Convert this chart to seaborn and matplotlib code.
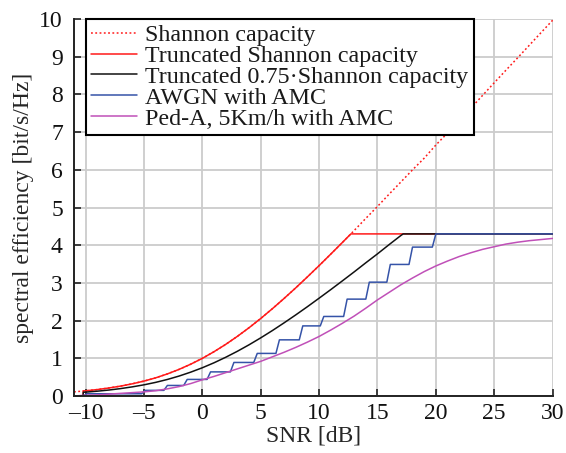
import matplotlib
matplotlib.use("Agg")
import matplotlib.pyplot as plt
import seaborn as sns
import numpy as np

# ---- data ----
snr_full = [-11, -10, -9, -8, -7, -6, -5, -4, -3, -2, -1, 0, 1, 2, 3, 4, 5, 6, 7, 8, 9,
            10, 11, 12, 13, 14, 15, 16, 17, 18, 19, 20, 21, 22, 23, 24, 25, 26, 27, 28, 29, 30]
shannon = [0.110, 0.138, 0.171, 0.213, 0.263, 0.324, 0.396, 0.482, 0.586, 0.706, 0.844, 1.000,
           1.176, 1.370, 1.583, 1.812, 2.057, 2.317, 2.588, 2.870, 3.161, 3.459, 3.765, 4.075,
           4.389, 4.712, 5.028, 5.356, 5.676, 5.999, 6.308, 6.658, 6.977, 7.308, 7.637, 7.973,
           8.309, 8.641, 8.969, 9.302, 9.636, 9.967]

trunc_snr = [-10.22, -10.2, -10, -9, -8, -7, -6, -5, -4, -3, -2, -1, 0, 1, 2, 3, 4, 5, 6, 7, 8,
             9, 10, 11, 12, 12.72, 30]
trunc_shannon = [0.0, 0.134, 0.138, 0.171, 0.213, 0.263, 0.324, 0.396, 0.482, 0.586, 0.706,
                 0.844, 1.000, 1.176, 1.370, 1.583, 1.812, 2.057, 2.317, 2.588, 2.870, 3.161,
                 3.459, 3.765, 4.075, 4.300, 4.300]

trunc075_snr = [-10.22, -10.2, -10, -9, -8, -7, -6, -5, -4, -3, -2, -1, 0, 1, 2, 3, 4, 5, 6, 7,
                8, 9, 10, 11, 12, 13, 14, 15, 16, 17, 17.2, 30]
trunc075 = [0.0, 0.100, 0.103, 0.128, 0.159, 0.197, 0.243, 0.297, 0.362, 0.439, 0.529, 0.633,
            0.750, 0.882, 1.028, 1.187, 1.359, 1.543, 1.737, 1.941, 2.152, 2.370, 2.595, 2.823,
            3.056, 3.292, 3.534, 3.771, 4.017, 4.257, 4.300, 4.300]

awgn_snr = [-11, -10.2, -9.9, -5.2, -4.9, -3.3, -3.0, -1.6, -1.3, 0.4, 0.7, 2.4, 2.7, 4.4, 4.7,
            6.3, 6.6, 8.3, 8.6, 10.1, 10.4, 12.1, 12.4, 14.0, 14.3, 15.8, 16.1, 17.7, 18.0,
            19.7, 20.0, 30]
awgn_amc = [0.0, 0.0, 0.06, 0.06, 0.15, 0.15, 0.28, 0.28, 0.44, 0.44, 0.64, 0.64, 0.89, 0.89,
            1.13, 1.13, 1.49, 1.49, 1.86, 1.86, 2.11, 2.11, 2.57, 2.57, 3.02, 3.02, 3.49, 3.49,
            3.95, 3.95, 4.30, 4.30]

peda_snr = snr_full
peda_amc = [0.00, 0.02, 0.03, 0.05, 0.07, 0.09, 0.11, 0.14, 0.19, 0.25, 0.33, 0.43, 0.52, 0.62,
            0.72, 0.82, 0.92, 1.04, 1.16, 1.29, 1.43, 1.58, 1.75, 1.93, 2.12, 2.33, 2.55, 2.75,
            2.95, 3.13, 3.30, 3.45, 3.58, 3.70, 3.80, 3.89, 3.96, 4.03, 4.08, 4.12, 4.15, 4.18]

labels = ["Shannon capacity", "Truncated Shannon capacity",
          "Truncated 0.75\u00b7Shannon capacity", "AWGN with AMC",
          "Ped-A, 5Km/h with AMC"]
x_ticks = [-10, -5, 0, 5, 10, 15, 20, 25, 30]
y_ticks = [0, 1, 2, 3, 4, 5, 6, 7, 8, 9, 10]

# ---- style ----
sns.set_theme(style="whitegrid")
plt.rcParams["font.family"] = ["Liberation Serif", "DejaVu Serif"]

fig = plt.figure(figsize=(5.66, 4.53), dpi=100)
ax = fig.add_axes([0.1307, 0.1258, 0.8456, 0.8322])

red = "#ff1a1a"
black = "#111111"
blue = "#3553a8"
magenta = "#c050b8"
lw = 1.1

sns.lineplot(x=snr_full, y=shannon, ax=ax, color=red, lw=lw, linestyle=(0, (1.2, 1.6)),
             estimator=None, sort=False, label=labels[0])
sns.lineplot(x=trunc_snr, y=trunc_shannon, ax=ax, color=red, lw=lw,
             estimator=None, sort=False, label=labels[1])
sns.lineplot(x=trunc075_snr, y=trunc075, ax=ax, color=black, lw=lw,
             estimator=None, sort=False, label=labels[2])
sns.lineplot(x=awgn_snr, y=awgn_amc, ax=ax, color=blue, lw=lw,
             estimator=None, sort=False, label=labels[3])
sns.lineplot(x=peda_snr, y=peda_amc, ax=ax, color=magenta, lw=lw,
             estimator=None, sort=False, label=labels[4])

ax.set_xlim(-11, 30)
ax.set_ylim(0, 10)
ax.set_xticks(x_ticks)
ax.set_yticks(y_ticks)
ax.set_xticklabels([("\u2013" + str(abs(t))) if t < 0 else str(t) for t in x_ticks])
ax.set_xlabel("SNR [dB]", fontsize=17, labelpad=1)
ax.set_ylabel("spectral efficiency [bit/s/Hz]", fontsize=17, labelpad=4)

ax.set_facecolor("white")
ax.grid(True, color="#cccccc", linewidth=1.3)
for side in ["top", "right"]:
    ax.spines[side].set_visible(False)
for side in ["left", "bottom"]:
    ax.spines[side].set_visible(True)
    ax.spines[side].set_color("#222222")
    ax.spines[side].set_linewidth(1.4)
ax.tick_params(axis="both", direction="in", length=5, width=1.2, color="#222222",
               labelsize=17, labelcolor="#111111", bottom=True, left=True)
ax.tick_params(axis="y", pad=8)
ax.tick_params(axis="x", pad=5)

leg = ax.legend(loc="upper left", bbox_to_anchor=(0.025, 1.0), fontsize=17.3,
                frameon=True, fancybox=False, framealpha=1, edgecolor="black",
                handlelength=1.9, handletextpad=0.35, borderpad=0.22,
                labelspacing=-0.04, borderaxespad=0)
leg.get_frame().set_linewidth(1.5)
for t in leg.get_texts():
    t.set_color("#1a1a1a")

fig.savefig("out.png", dpi=100)
